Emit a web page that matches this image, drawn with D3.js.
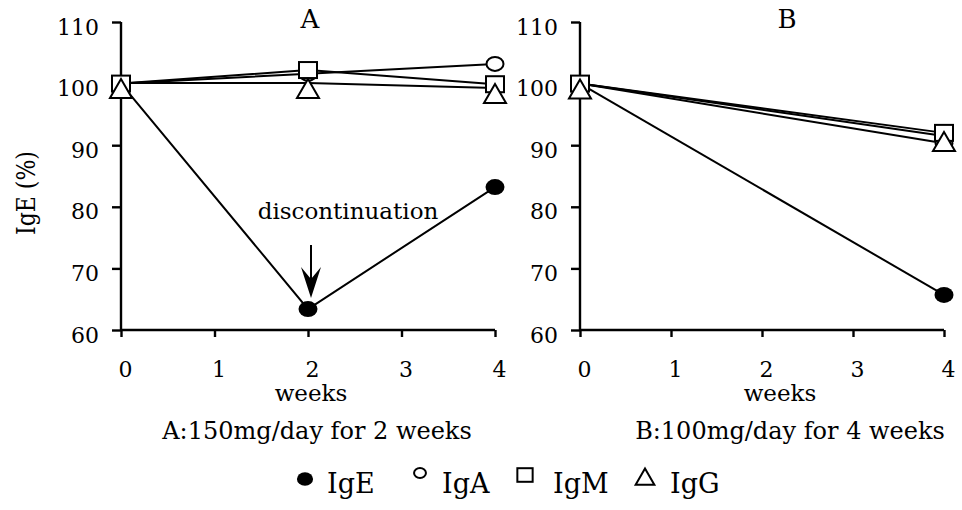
<!DOCTYPE html>
<html>
<head>
<meta charset="utf-8">
<script src="https://cdn.jsdelivr.net/npm/d3@7"></script>
<style>
  body { margin: 0; background: #fff; }
  svg text { font-family: "DejaVu Serif", serif; fill: #000; }
</style>
</head>
<body>
<div id="chart"></div>
<script>
// values
var weeksA = [0, 2, 4];
var igeA = [100, 63.4, 83.2];
var igaA = [100, 101.6, 103.2];
var igmA = [100, 102.2, 99.9];
var iggA = [100.1, 100.1, 99.3];

var weeksB = [0, 4];
var igeB = [100, 65.7];
var igaB = [100, 90.3];
var igmB = [100, 92.0];
var iggB = [100, 91.5];

var seriesNames = ["IgE", "IgA", "IgM", "IgG"];
var markerTypes = ["dot", "circle", "square", "triangle"];
var xTicks = [0, 1, 2, 3, 4];
var yTicks = [60, 70, 80, 90, 100, 110];

var svgWidth = 962;
var svgHeight = 510;

var svg = d3.select("#chart")
  .append("svg")
  .attr("width", svgWidth)
  .attr("height", svgHeight);

var y = d3.scaleLinear().domain([60, 110]).range([330, 22]);

// draw one marker of a given type at (cx, cy)
function marker(g, type, cx, cy, s) {
  s = s || 1;
  if (type === "dot") {
    g.append("ellipse").attr("cx", cx).attr("cy", cy)
      .attr("rx", 9.5 * s).attr("ry", 8 * s).attr("fill", "#000");
  } else if (type === "circle") {
    g.append("ellipse").attr("cx", cx).attr("cy", cy)
      .attr("rx", 8.5 * s).attr("ry", 7 * s)
      .attr("fill", "#fff").attr("stroke", "#000").attr("stroke-width", 2);
  } else if (type === "square") {
    g.append("rect").attr("x", cx - 9 * s).attr("y", cy - 8 * s)
      .attr("width", 18 * s).attr("height", 16 * s)
      .attr("fill", "#fff").attr("stroke", "#000").attr("stroke-width", 2);
  } else {
    // triangle sits a little below its point, like the original
    g.append("path")
      .attr("d", `M${cx},${cy - 4 * s} L${cx + 11 * s},${cy + 15 * s} L${cx - 11 * s},${cy + 15 * s} Z`)
      .attr("fill", "#fff").attr("stroke", "#000").attr("stroke-width", 2)
      .attr("stroke-linejoin", "miter");
  }
}

function panel(weeks, series, range, title, subtitle, shift) {
  var x = d3.scaleLinear().domain([0, 4]).range(range);
  var g = svg.append("g");

  var bottomAxis = d3.axisBottom(x).tickValues(xTicks).tickSize(7).tickPadding(24)
    .tickFormat(d3.format("d"));
  var leftAxis = d3.axisLeft(y).tickValues(yTicks).tickSize(9).tickPadding(13);

  var xa = g.append("g")
    .attr("transform", `translate(0, ${y(60)})`)
    .call(bottomAxis);
  xa.selectAll("text").attr("dx", 4);

  var ya = g.append("g")
    .attr("transform", `translate(${x(0)}, 0)`)
    .call(leftAxis);
  ya.selectAll("text").attr("y", 5);

  g.selectAll(".domain").attr("stroke-width", 2.4).attr("d", null);
  xa.select(".domain").attr("d", `M${x(0)},0H${x(4)}`);
  ya.select(".domain").attr("d", `M0,${y(110)}V${y(60)}`);
  g.selectAll(".tick line").attr("stroke-width", 2.4);
  g.selectAll(".tick text").style("font-size", "22px")
    .style("font-family", "DejaVu Serif");

  var line = d3.line()
    .x(function (d, i) { return x(weeks[i]); })
    .y(function (d) { return y(d); });

  series.forEach(function (vals) {
    g.append("path")
      .datum(vals)
      .attr("d", line)
      .attr("fill", "none")
      .attr("stroke", "#000")
      .attr("stroke-width", 2);
  });
  series.forEach(function (vals, k) {
    vals.forEach(function (v, i) {
      marker(g, markerTypes[k], x(weeks[i]), y(v));
    });
  });

  g.append("text")
    .attr("x", x(2) + shift[0]).attr("y", 28)
    .attr("text-anchor", "middle")
    .style("font-size", "26px")
    .text(title);

  g.append("text")
    .attr("x", x(2) + shift[1]).attr("y", 401)
    .attr("text-anchor", "middle")
    .style("font-size", "23px")
    .text("weeks");

  g.append("text")
    .attr("x", x(2) + shift[2]).attr("y", 439)
    .attr("text-anchor", "middle")
    .style("font-size", "24px")
    .text(subtitle);

  return x;
}

var xA = panel(weeksA, [igeA, igaA, igmA, iggA], [121, 495], "A", "A:150mg/day for 2 weeks", [2, 3, 9]);
var xB = panel(weeksB, [igeB, igaB, igmB, iggB], [580, 944], "B", "B:100mg/day for 4 weeks", [25, 18, 28]);

// arrow pointing at the week-2 IgE point of panel A
var ax = xA(2) + 3;
var ay = y(igeA[1]);
svg.append("line")
  .attr("x1", ax).attr("x2", ax)
  .attr("y1", ay - 64).attr("y2", ay - 25)
  .attr("stroke", "#000").attr("stroke-width", 2);
svg.append("path")
  .attr("d", `M${ax},${ay - 11} L${ax - 10},${ay - 42} L${ax},${ay - 30} L${ax + 10},${ay - 42} Z`)
  .attr("fill", "#000");
svg.append("text")
  .attr("x", ax + 37).attr("y", ay - 90)
  .attr("text-anchor", "middle")
  .style("font-size", "23px")
  .text("discontinuation");

// y axis title
svg.append("text")
  .attr("transform", `translate(35, 193) rotate(-90) scale(1, 1.22)`)
  .attr("text-anchor", "middle")
  .style("font-size", "22px")
  .text("IgE (%)");

// legend
var legendX = [305, 420, 525, 645];
var legendTextX = [327, 442, 553, 670];
var legendMarkY = [479, 473, 475, 472];
var lg = svg.append("g");
seriesNames.forEach(function (name, k) {
  marker(lg, markerTypes[k], legendX[k], legendMarkY[k], k === 1 ? 0.7 : 0.85);
  lg.append("text")
    .attr("x", legendTextX[k]).attr("y", 493)
    .style("font-size", "27px")
    .text(name);
});
</script>
</body>
</html>
